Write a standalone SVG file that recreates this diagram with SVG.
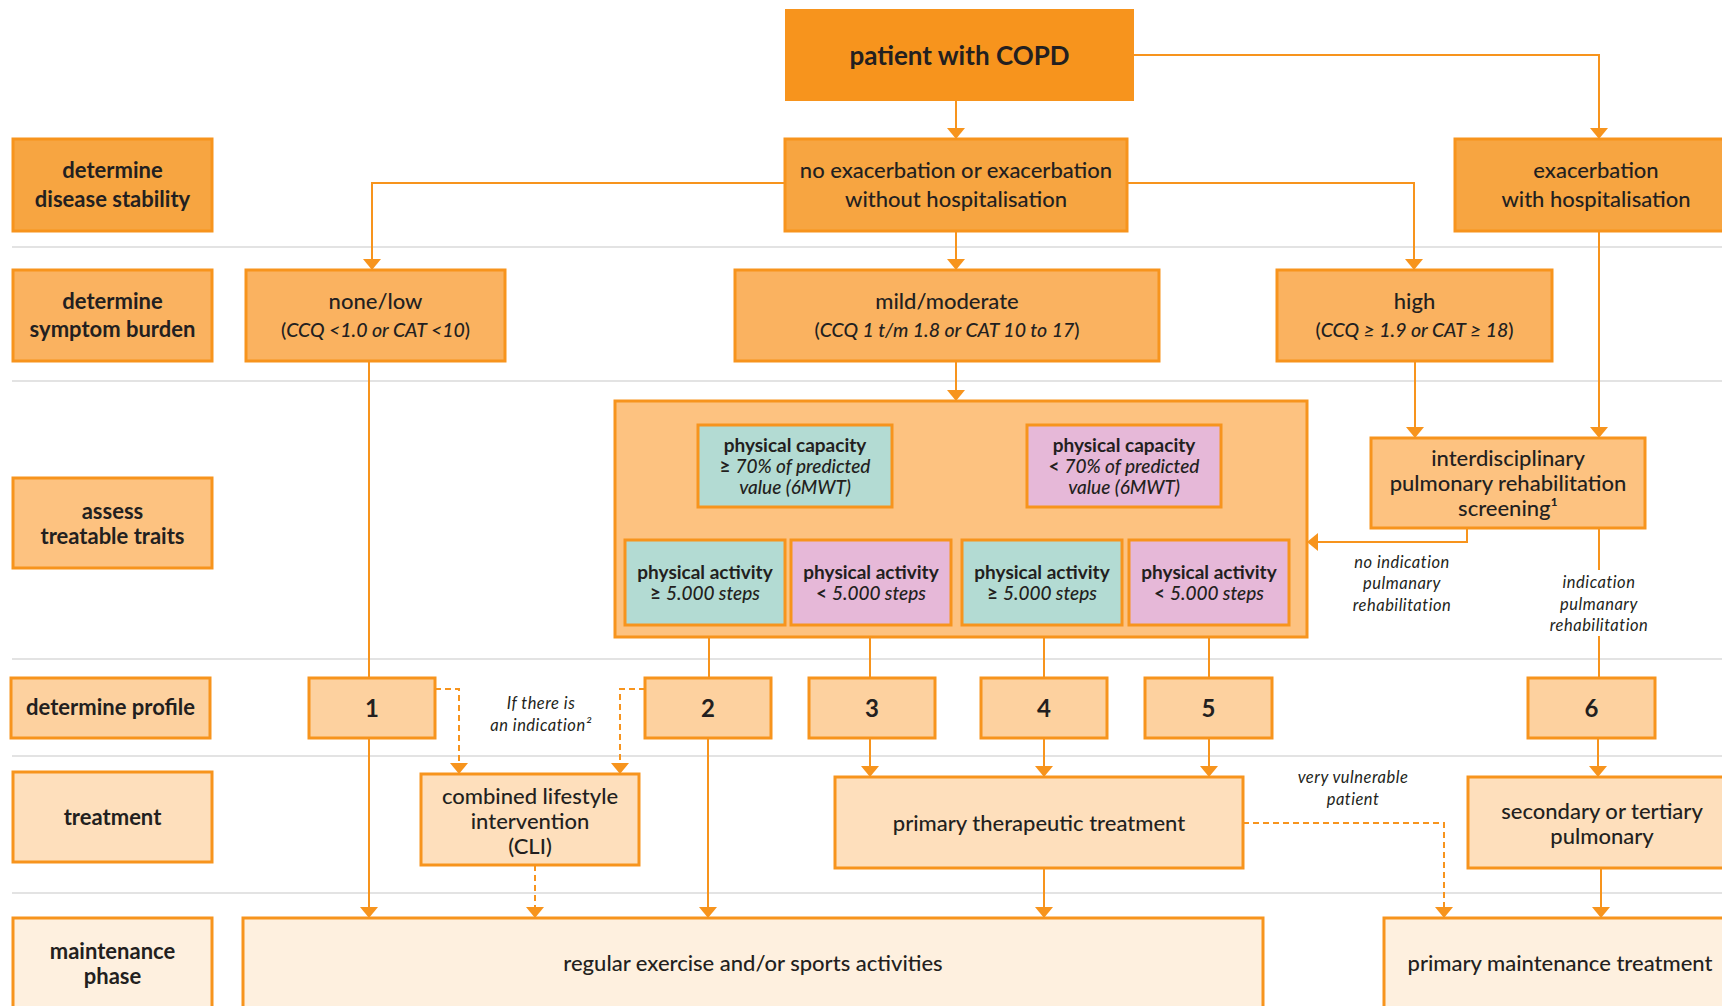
<svg xmlns="http://www.w3.org/2000/svg" width="1722" height="1006" viewBox="0 0 1722 1006">
  <style>
    text { font-family: Lato, "Noto Sans", "Liberation Sans", sans-serif; fill: #231F20; text-anchor: middle; }
    .t { font-size: 22px; font-weight: 500; }
    .crit { font-size: 19.5px; }
    .b { font-size: 22px; font-weight: 700; }
    .s { font-size: 19px; font-weight: 500; }
    .sb { font-size: 19px; font-weight: 700; }
    .num { font-size: 24px; font-weight: 700; }
    .note { font-size: 16.5px; font-style: italic; letter-spacing: 0.5px; }
    .it { font-style: italic; }
    .box { stroke: #F7941D; stroke-width: 3; }
    .r1 { fill: #F7A541; }
    .r2 { fill: #FAB260; }
    .r3 { fill: #FDC280; }
    .r4 { fill: #FDD19F; }
    .r5 { fill: #FEDFBC; }
    .r6 { fill: #FEF0DF; }
    .teal { fill: #B3DBD3; }
    .pink { fill: #E6B8D8; }
    .sep { stroke: #E3E3E3; stroke-width: 2; fill: none; }
    .ln { stroke: #F7941D; stroke-width: 2; fill: none; }
    .arr { marker-end: url(#ah); }
    .dash { stroke-dasharray: 6 4; }
  </style>
  <defs>
    <marker id="ah" viewBox="0 0 11 18" refX="11" refY="9" markerWidth="11" markerHeight="18" orient="auto" markerUnits="userSpaceOnUse">
      <path d="M0,0 L11,9 L0,18 z" fill="#F7941D"/>
    </marker>
  </defs>

  <rect width="1722" height="1006" fill="#FFFFFF"/>

  <!-- row separators -->
  <g id="separators">
    <line class="sep" x1="12" y1="247" x2="1722" y2="247"/>
    <line class="sep" x1="12" y1="381" x2="1722" y2="381"/>
    <line class="sep" x1="12" y1="659" x2="1722" y2="659"/>
    <line class="sep" x1="12" y1="756" x2="1722" y2="756"/>
    <line class="sep" x1="12" y1="893" x2="1722" y2="893"/>
  </g>

  <!-- row labels -->
  <g id="label-stability">
    <rect class="box r1" x="13" y="139" width="199" height="92"/>
    <text class="b" x="112.5" y="178">determine</text>
    <text class="b" x="112.5" y="207">disease stability</text>
  </g>
  <g id="label-symptom">
    <rect class="box r2" x="13" y="270" width="199" height="91"/>
    <text class="b" x="112.5" y="309">determine</text>
    <text class="b" x="112.5" y="337">symptom burden</text>
  </g>
  <g id="label-traits">
    <rect class="box r3" x="13" y="478" width="199" height="90"/>
    <text class="b" x="112.5" y="519">assess</text>
    <text class="b" x="112.5" y="544">treatable traits</text>
  </g>
  <g id="label-profile">
    <rect class="box r4" x="11" y="678" width="199" height="60"/>
    <text class="b" x="110.5" y="715">determine profile</text>
  </g>
  <g id="label-treatment">
    <rect class="box r5" x="13" y="772" width="199" height="90"/>
    <text class="b" x="112.5" y="825">treatment</text>
  </g>
  <g id="label-maintenance">
    <rect class="box r6" x="13" y="918" width="199" height="100"/>
    <text class="b" x="112.5" y="959">maintenance</text>
    <text class="b" x="112.5" y="984">phase</text>
  </g>

  <!-- connectors -->
  <g id="connectors">
    <path class="ln arr" d="M956,101 V139"/>
    <path class="ln arr" d="M1134,55 H1599 V139"/>
    <path class="ln arr" d="M785,183 H372 V270"/>
    <path class="ln arr" d="M1127,183 H1414 V270"/>
    <path class="ln arr" d="M956,231 V270"/>
    <path class="ln arr" d="M956,361 V401"/>
    <path class="ln arr" d="M795,402 V425"/>
    <path class="ln arr" d="M1123,402 V425"/>
    <path class="ln" d="M795,507 V518 M710,518 H874 M1124,507 V518 M1042,518 H1215"/>
    <path class="ln arr" d="M710,518 V540"/>
    <path class="ln arr" d="M874,518 V540"/>
    <path class="ln arr" d="M1042,518 V540"/>
    <path class="ln arr" d="M1215,518 V540"/>
    <path class="ln" d="M709,625 V678 M870,625 V678 M1044,625 V678 M1209,625 V678"/>
    <path class="ln" d="M369,361 V678"/>
    <path class="ln arr" d="M369,738 V918"/>
    <path class="ln dash arr" d="M435,689 H459 V774"/>
    <path class="ln dash arr" d="M645,689 H620 V774"/>
    <path class="ln arr" d="M708,738 V918"/>
    <path class="ln dash arr" d="M535,865 V918"/>
    <path class="ln arr" d="M870,738 V777"/>
    <path class="ln arr" d="M1044,738 V777"/>
    <path class="ln arr" d="M1209,738 V777"/>
    <path class="ln arr" d="M1044,868 V918"/>
    <path class="ln dash arr" d="M1243,823 H1444 V918"/>
    <path class="ln arr" d="M1415,361 V438"/>
    <path class="ln arr" d="M1599,231 V438"/>
    <path class="ln arr" d="M1467,528 V542 H1307"/>
    <path class="ln" d="M1599,528 V570"/>
    <path class="ln" d="M1599,636 V678"/>
    <path class="ln arr" d="M1598,738 V777"/>
    <path class="ln arr" d="M1601,868 V918"/>
  </g>

  <!-- edge labels -->
  <g id="edge-labels">
    <text class="note" x="541" y="709">If there is</text>
    <text class="note" x="541" y="731">an indication²</text>
    <text class="note" x="1402" y="568">no indication</text>
    <text class="note" x="1402" y="589">pulmanary</text>
    <text class="note" x="1402" y="611">rehabilitation</text>
    <text class="note" x="1599" y="588">indication</text>
    <text class="note" x="1599" y="610">pulmanary</text>
    <text class="note" x="1599" y="631">rehabilitation</text>
    <text class="note" x="1353" y="783">very vulnerable</text>
    <text class="note" x="1353" y="805">patient</text>
  </g>

  <!-- flow nodes -->
  <g id="patient">
    <rect x="785" y="9" width="349" height="92" fill="#F7941D"/>
    <text x="959.5" y="65" style="font-size:26px;font-weight:700">patient with COPD</text>
  </g>
  <g id="no-exacerbation">
    <rect class="box r1" x="785" y="139" width="342" height="92"/>
    <text class="t" x="956" y="178">no exacerbation or exacerbation</text>
    <text class="t" x="956" y="207">without hospitalisation</text>
  </g>
  <g id="exacerbation">
    <rect class="box r1" x="1455" y="139" width="290" height="92"/>
    <text class="t" x="1596" y="178">exacerbation</text>
    <text class="t" x="1596" y="207">with hospitalisation</text>
  </g>
  <g id="none-low">
    <rect class="box r2" x="246" y="270" width="259" height="91"/>
    <text class="t" x="375.5" y="309">none/low</text>
    <text class="t crit" x="375.5" y="337">(<tspan class="it">CCQ &lt;1.0 or CAT &lt;10</tspan>)</text>
  </g>
  <g id="mild-moderate">
    <rect class="box r2" x="735" y="270" width="424" height="91"/>
    <text class="t" x="947" y="309">mild/moderate</text>
    <text class="t crit" x="947" y="337">(<tspan class="it">CCQ 1 t/m 1.8 or CAT 10 to 17</tspan>)</text>
  </g>
  <g id="high">
    <rect class="box r2" x="1277" y="270" width="275" height="91"/>
    <text class="t" x="1414.5" y="309">high</text>
    <text class="t crit" x="1414.5" y="337">(<tspan class="it">CCQ ≥ 1.9 or CAT ≥ 18</tspan>)</text>
  </g>

  <g id="traits-panel">
    <rect class="box r3" x="615" y="401" width="692" height="236"/>
  </g>
  <g id="capacity-high">
    <rect class="box teal" x="698" y="425" width="194" height="82"/>
    <text class="sb" x="795" y="452">physical capacity</text>
    <text class="s" x="795" y="473"><tspan font-weight="700">≥</tspan> <tspan class="it">70% of predicted</tspan></text>
    <text class="s it" x="795" y="494">value (6MWT)</text>
  </g>
  <g id="capacity-low">
    <rect class="box pink" x="1027" y="425" width="194" height="82"/>
    <text class="sb" x="1124" y="452">physical capacity</text>
    <text class="s" x="1124" y="473"><tspan font-weight="700">&lt;</tspan> <tspan class="it">70% of predicted</tspan></text>
    <text class="s it" x="1124" y="494">value (6MWT)</text>
  </g>
  <g id="activity-1">
    <rect class="box teal" x="625" y="540" width="160" height="85"/>
    <text class="sb" x="705" y="579">physical activity</text>
    <text class="s" x="705" y="600"><tspan font-weight="700">≥</tspan> <tspan class="it">5.000 steps</tspan></text>
  </g>
  <g id="activity-2">
    <rect class="box pink" x="791" y="540" width="160" height="85"/>
    <text class="sb" x="871" y="579">physical activity</text>
    <text class="s" x="871" y="600"><tspan font-weight="700">&lt;</tspan> <tspan class="it">5.000 steps</tspan></text>
  </g>
  <g id="activity-3">
    <rect class="box teal" x="962" y="540" width="160" height="85"/>
    <text class="sb" x="1042" y="579">physical activity</text>
    <text class="s" x="1042" y="600"><tspan font-weight="700">≥</tspan> <tspan class="it">5.000 steps</tspan></text>
  </g>
  <g id="activity-4">
    <rect class="box pink" x="1129" y="540" width="160" height="85"/>
    <text class="sb" x="1209" y="579">physical activity</text>
    <text class="s" x="1209" y="600"><tspan font-weight="700">&lt;</tspan> <tspan class="it">5.000 steps</tspan></text>
  </g>
  <g id="rehab-screening">
    <rect class="box r3" x="1371" y="438" width="274" height="90"/>
    <text class="t" x="1508" y="466">interdisciplinary</text>
    <text class="t" x="1508" y="491">pulmonary rehabilitation</text>
    <text class="t" x="1508" y="516">screening¹</text>
  </g>

  <g id="profile-1">
    <rect class="box r4" x="309" y="678" width="126" height="60"/>
    <text class="num" x="372" y="717">1</text>
  </g>
  <g id="profile-2">
    <rect class="box r4" x="645" y="678" width="126" height="60"/>
    <text class="num" x="708" y="717">2</text>
  </g>
  <g id="profile-3">
    <rect class="box r4" x="809" y="678" width="126" height="60"/>
    <text class="num" x="872" y="717">3</text>
  </g>
  <g id="profile-4">
    <rect class="box r4" x="981" y="678" width="126" height="60"/>
    <text class="num" x="1044" y="717">4</text>
  </g>
  <g id="profile-5">
    <rect class="box r4" x="1145" y="678" width="127" height="60"/>
    <text class="num" x="1208.5" y="717">5</text>
  </g>
  <g id="profile-6">
    <rect class="box r4" x="1528" y="678" width="127" height="60"/>
    <text class="num" x="1591.5" y="717">6</text>
  </g>

  <g id="cli">
    <rect class="box r5" x="421" y="774" width="218" height="91"/>
    <text class="t" x="530" y="804">combined lifestyle</text>
    <text class="t" x="530" y="829">intervention</text>
    <text class="t" x="530" y="854">(CLI)</text>
  </g>
  <g id="primary-therapeutic">
    <rect class="box r5" x="835" y="777" width="408" height="91"/>
    <text class="t" x="1039" y="831">primary therapeutic treatment</text>
  </g>
  <g id="secondary-tertiary">
    <rect class="box r5" x="1468" y="777" width="280" height="91"/>
    <text class="t" x="1602" y="819">secondary or tertiary</text>
    <text class="t" x="1602" y="844">pulmonary</text>
  </g>

  <g id="regular-exercise">
    <rect class="box r6" x="243" y="918" width="1020" height="100"/>
    <text class="t" x="753" y="971">regular exercise and/or sports activities</text>
  </g>
  <g id="primary-maintenance">
    <rect class="box r6" x="1384" y="918" width="360" height="100"/>
    <text class="t" x="1560" y="971">primary maintenance treatment</text>
  </g>
</svg>
